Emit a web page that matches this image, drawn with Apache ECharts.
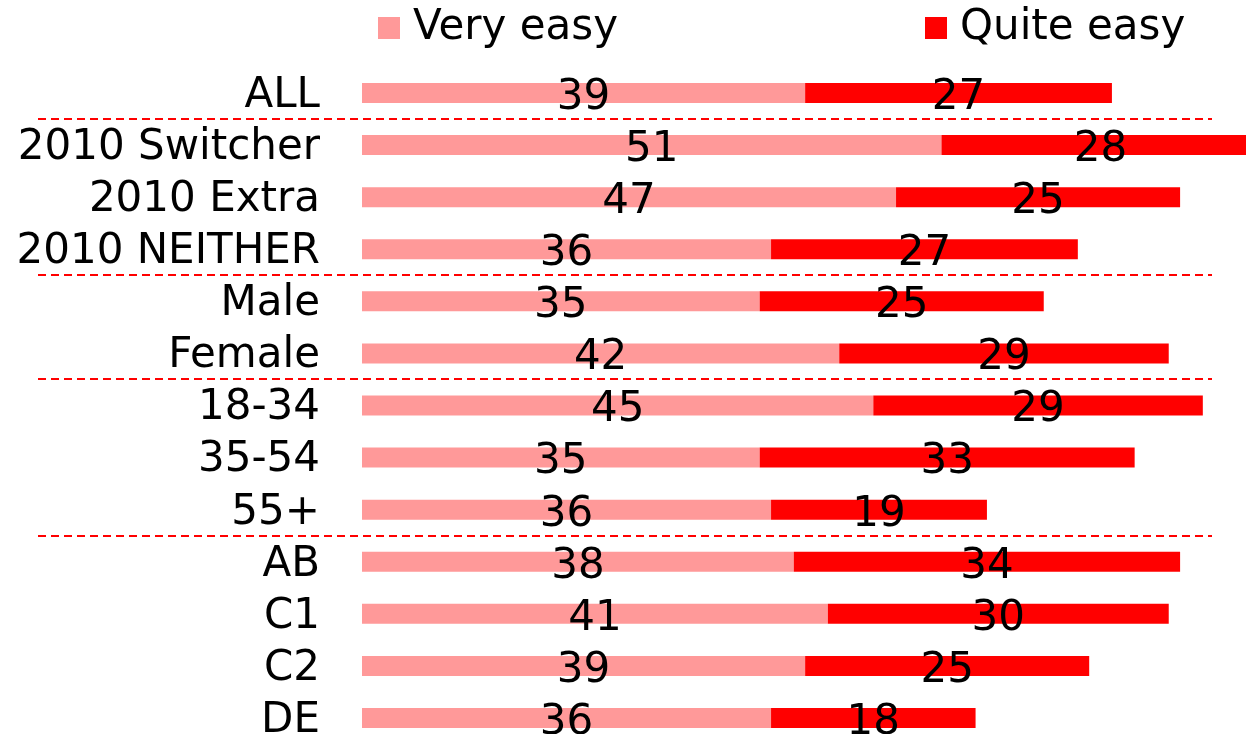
<!DOCTYPE html>
<html>
<head>
<meta charset="utf-8">
<script src="https://cdn.jsdelivr.net/npm/echarts@6/dist/echarts.min.js"></script>
<style>
  html, body { margin: 0; padding: 0; background: #fff; }
  #chart { width: 1246px; height: 734px; }
</style>
</head>
<body>
<div id="chart"></div>
<script>
const categories = ['ALL', '2010 Switcher', '2010 Extra', '2010 NEITHER', 'Male', 'Female',
  '18-34', '35-54', '55+', 'AB', 'C1', 'C2', 'DE'];
const veryEasy = [39, 51, 47, 36, 35, 42, 45, 35, 36, 38, 41, 39, 36];
const quiteEasy = [27, 28, 25, 27, 25, 29, 29, 33, 19, 34, 30, 25, 18];
// groups end after these rows
const groupEnds = ['ALL', '2010 NEITHER', 'Female', '55+'];

const FONT = 'DejaVu Sans';

const valueLabel = {
  show: true,
  position: 'inside',
  offset: [0, 5],
  color: '#000',
  fontFamily: FONT,
  fontSize: 42,
};

const legendBase = {
  top: 7,
  padding: 0,
  icon: 'rect',
  itemWidth: 22,
  itemHeight: 22,
  textStyle: {
    color: '#000',
    fontFamily: FONT,
    fontSize: 42,
    padding: [0, 0, 0, 8],
  },
};

const option = {
  animation: false,
  backgroundColor: '#fff',
  legend: [
    { ...legendBase, left: 378, data: ['Very easy'] },
    { ...legendBase, left: 925, data: ['Quite easy'] },
  ],
  grid: {
    left: 362,
    right: 0,
    top: 67,
    height: 677,
    outerBoundsMode: 'none',
    containLabel: false,
  },
  xAxis: {
    type: 'value',
    min: 0,
    max: 77.8,
    show: false,
  },
  yAxis: {
    type: 'category',
    inverse: true,
    data: categories,
    axisLine: { show: false },
    axisTick: { show: false },
    splitLine: { show: false },
    axisLabel: {
      interval: 0,
      hideOverlap: false,
      margin: 42,
      // nudges the text a few px down so the caps sit level with the bar
      verticalAlign: 'top',
      lineHeight: 6,
      color: '#000',
      fontFamily: FONT,
      fontSize: 42,
    },
  },
  series: [
    {
      name: 'Very easy',
      type: 'bar',
      stack: 'total',
      barWidth: 20,
      clip: false,
      itemStyle: { color: '#FF9999' },
      label: valueLabel,
      data: veryEasy,
    },
    {
      name: 'Quite easy',
      type: 'bar',
      stack: 'total',
      barWidth: 20,
      clip: false,
      itemStyle: { color: '#FF0000' },
      label: valueLabel,
      data: quiteEasy,
    },
  ],
};

const chart = echarts.init(document.getElementById('chart'), null, { renderer: 'canvas' });
chart.setOption(option);

// dashed separators between the groups, halfway between neighbouring rows
const separators = groupEnds.map((name) => {
  const idx = categories.indexOf(name);
  const y0 = chart.convertToPixel({ yAxisIndex: 0 }, categories[idx]);
  const y1 = chart.convertToPixel({ yAxisIndex: 0 }, categories[idx + 1]);
  const y = Math.round((y0 + y1) / 2);
  return {
    type: 'line',
    shape: { x1: 38, y1: y, x2: 1212, y2: y },
    style: { stroke: '#FF0000', lineWidth: 2, lineDash: [8, 5] },
    z: 0,
  };
});
chart.setOption({ graphic: separators });
</script>
</body>
</html>
